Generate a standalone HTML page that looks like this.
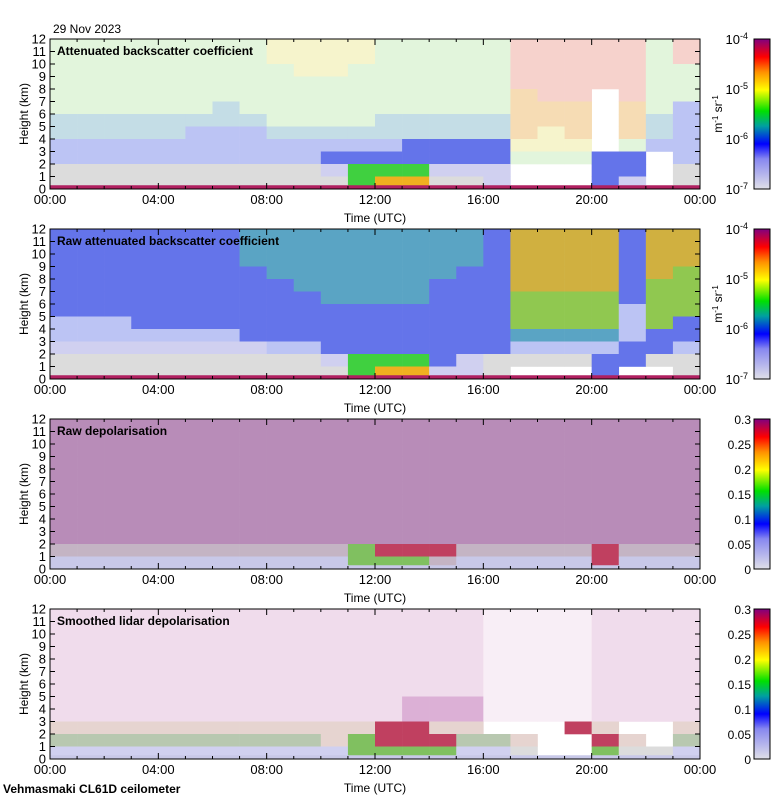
<!DOCTYPE html>
<html><head><meta charset="utf-8">
<style>
html,body{margin:0;padding:0;background:#fff;}
svg{display:block;font-family:"Liberation Sans",sans-serif;}
</style></head>
<body>
<svg id="chart" width="780" height="800" viewBox="0 0 780 800" xmlns="http://www.w3.org/2000/svg">
<text x="53" y="33" font-size="12">29 Nov 2023</text>
<text x="3" y="793" font-size="12" font-weight="bold">Vehmasmaki CL61D ceilometer</text>
</svg>
<script>
// ---- data ----
const hourTicks = ["00:00","04:00","08:00","12:00","16:00","20:00","00:00"];
const heightTicks = [0,1,2,3,4,5,6,7,8,9,10,11,12];
const panelTitles = ["Attenuated backscatter coefficient","Raw attenuated backscatter coefficient","Raw depolarisation","Smoothed lidar depolarisation"];
const logTickLabels = ["-7","-6","-5","-4"];
const depolTickLabels = ["0","0.05","0.1","0.15","0.2","0.25","0.3"];
// colour classes (averaged speckle colours)
const palette = {w:"#ffffff",g:"#dcdcdc",L:"#d0d0f0",l:"#c8c8e8",b:"#bcc4f4",B:"#6474ea",c:"#5aa4c4",
 e:"#e2f5dc",y:"#f6f4cc",r:"#f6d2cc",o:"#f6dcb4",t:"#c4dde6",E:"#40d040",Y:"#f0b020",O:"#d0b040",Q:"#90c850",
 P:"#b88cb8",x:"#c4b4c4",C:"#80c060",R:"#c04060",p:"#f0dcec",q:"#f8eef6",m:"#dcb0d6",f:"#e6d4d0",F:"#b8c8b0"};
// rows from 11-12 km (top) down to 0-1 km; one char per hour 00..23
const panel1Rows = ["eeeeeeeeyyyyeeeeerrrrrer","eeeeeeeeyyyyeeeeerrrrrer","eeeeeeeeeyyeeeeeerrrrree","eeeeeeeeeeeeeeeeerrrrree",
 "eeeeeeeeeeeeeeeeeorrwree","eeeeeeteeeeeeeeeeooowoeb","tttttttteeeetttttooowotb","tttttbbbtttttttttoyowotb",
 "bbbbbbbbbbbbbBBBByyywebb","bbbbbbbbbbBBBBBBBeeeBBwb","ggggggggggLEEELLLwwwBBwg","gggggggggggEYYggLwwwBLwg"];
const panel2Rows = ["BBBBBBBcccccccccBOOOOBOO","BBBBBBBcccccccccBOOOOBOO","BBBBBBBcccccccccBOOOOBOO","BBBBBBBBcccccccBBOOOOBOQ",
 "BBBBBBBBBcccccBBBOOOOBQQ","BBBBBBBBBBccccBBBQQQQBQQ","BBBBBBBBBBBBBBBBBQQQQbQQ","bbbBBBBBBBBBBBBBBQQQQbQB",
 "bbbbbbbBBBBBBBBBBccccbBB","LLLLLLLLbbBBBBBBBbbbbBBb","ggggggggggLEEEBLggggBBgg","gggggggggggEYYLLgwwwBwwg"];
const panel3Rows = ["PPPPPPPPPPPPPPPPPPPPPPPP","PPPPPPPPPPPPPPPPPPPPPPPP","PPPPPPPPPPPPPPPPPPPPPPPP","PPPPPPPPPPPPPPPPPPPPPPPP",
 "PPPPPPPPPPPPPPPPPPPPPPPP","PPPPPPPPPPPPPPPPPPPPPPPP","PPPPPPPPPPPPPPPPPPPPPPPP","PPPPPPPPPPPPPPPPPPPPPPPP",
 "PPPPPPPPPPPPPPPPPPPPPPPP","PPPPPPPPPPPPPPPPPPPPPPPP","xxxxxxxxxxxCRRRxxxxxRxxx","lllllllllllCCCxlllllRlll"];
const panel4Rows = ["ppppppppppppppppqqqqpppp","ppppppppppppppppqqqqpppp","ppppppppppppppppqqqqpppp","ppppppppppppppppqqqqpppp",
 "ppppppppppppppppqqqqpppp","ppppppppppppppppqqqqpppp","ppppppppppppppppqqqqpppp","pppppppppppppmmmqqqqpppp",
 "pppppppppppppmmmqqqqpppp","ffffffffffffRRffwwwRfwwf","FFFFFFFFFFfCRRRFFfwwRfwF","LLLLLLLLLLLCCCCLLgwwCggL"];
const panelRows = [panel1Rows, panel2Rows, panel3Rows, panel4Rows];
const surfaceStrip = ["#b02060","#b02060","#c8c8e8","#c8c8e8"];

// ---- layout ----
const NS="http://www.w3.org/2000/svg";
const svg=document.getElementById('chart');
const X0=50,X1=700,PH=150,tops=[39,229,419,609];
function mk(tag,attrs,parent){const e=document.createElementNS(NS,tag);for(const k in attrs)e.setAttribute(k,attrs[k]);(parent||svg).appendChild(e);return e;}
const xScale=h=>X0+(X1-X0)*h/24;
function yScale(top,km){return top+PH-PH*km/12;}

const defs=mk('defs',{});
const g1=mk('linearGradient',{id:'logGrad',x1:0,y1:1,x2:0,y2:0},defs);
[["0","#e0e0e8"],["0.2","#8888f0"],["0.3","#0000ff"],["0.42","#00a0a0"],["0.52","#00e000"],["0.66","#ffff00"],["0.78","#ff9000"],["0.88","#ff0000"],["1","#800080"]].forEach(s=>mk('stop',{offset:s[0],'stop-color':s[1]},g1));

tops.forEach((top,pi)=>{
  const grp=mk('g',{});
  
  
  const rows=panelRows[pi];
  rows.forEach((row,ri)=>{
    const km=11-ri;
    for(let h=0;h<24;h++){
      const c=palette[row[h]];
      if(c==="#ffffff")continue;
      const r=mk('rect',{x:xScale(h),y:yScale(top,km+1),width:xScale(h+1)-xScale(h)+0.3,height:yScale(top,km)-yScale(top,km+1)+0.3,fill:c},grp);
      
      
    }
  });
  const s=mk('rect',{x:X0,y:yScale(top,0.3),width:X1-X0,height:yScale(top,0)-yScale(top,0.3),fill:surfaceStrip[pi]},grp);
  
  
  const fr=mk('rect',{x:X0,y:top,width:X1-X0,height:PH,fill:'none',stroke:'#000','stroke-width':1},grp);
  
  
  heightTicks.forEach(v=>{
    const y=yScale(top,v);
    mk('line',{x1:X0,x2:X0+5,y1:y,y2:y,stroke:'#000'},grp);
    mk('line',{x1:X1-5,x2:X1,y1:y,y2:y,stroke:'#000'},grp);
    const t=mk('text',{x:46,y:y+4.5,'font-size':13,'text-anchor':'end'},grp);
    t.textContent=v;
    
    
  });
  for(let h=0;h<=24;h++){
    const x=xScale(h),len=(h%4===0)?6:3;
    mk('line',{x1:x,x2:x,y1:top+PH,y2:top+PH-len,stroke:'#000'},grp);
    mk('line',{x1:x,x2:x,y1:top,y2:top+len,stroke:'#000'},grp);
  }
  hourTicks.forEach((lab,i)=>{
    const t=mk('text',{x:xScale(i*4),y:top+PH+15,'font-size':13,'text-anchor':'middle'},grp);
    t.textContent=lab;
    
    
  });
  const xt=mk('text',{x:375,y:top+PH+33,'font-size':12,'text-anchor':'middle'},grp);
  xt.textContent='Time (UTC)';
  
  
  const yt=mk('text',{x:0,y:0,'font-size':12,'text-anchor':'middle',transform:`translate(28,${top+PH/2}) rotate(-90)`},grp);
  yt.textContent='Height (km)';
  
  
  const tt=mk('text',{x:57,y:top+16,'font-size':12,'font-weight':'bold'},grp);
  tt.textContent=panelTitles[pi];
  
  
  // colorbar
  const cb=mk('rect',{x:754,y:top,width:16,height:PH,fill:'url(#logGrad)',stroke:'#000'},grp);
  
  
  if(pi<2){
    logTickLabels.forEach((e,i)=>{
      const y=top+PH-PH*i/3;
      const t=mk('text',{x:748,y:y+5,'font-size':13,'text-anchor':'end'},grp);
      
      
      t.innerHTML='10<tspan dy="-5" font-size="9">'+e+'</tspan>';
    });
    const u=mk('text',{x:0,y:0,'font-size':12,'text-anchor':'middle',transform:`translate(722,${top+PH/2}) rotate(-90)`},grp);
    
    
    u.innerHTML='m<tspan dy="-4" font-size="8">-1</tspan><tspan dy="4"> sr</tspan><tspan dy="-4" font-size="8">-1</tspan>';
  } else {
    depolTickLabels.forEach((lab,i)=>{
      const y=top+PH-PH*i/6;
      const t=mk('text',{x:751,y:y+5,'font-size':12,'text-anchor':'end'},grp);
      t.textContent=lab;
      
      
    });
  }
});
</script>
</body></html>
